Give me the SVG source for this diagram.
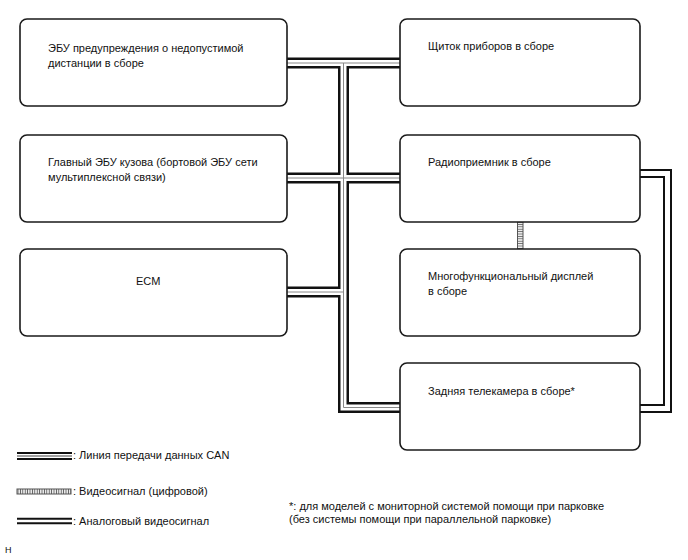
<svg xmlns="http://www.w3.org/2000/svg" width="688" height="560" viewBox="0 0 688 560">
<style>
  .box{fill:#fff;stroke:#1a1a1a;stroke-width:1.6}
  text{font-family:"Liberation Sans",Arial,sans-serif;font-size:11px;fill:#111}
  .cb{fill:none;stroke:#111;stroke-width:11;stroke-linejoin:miter}
  .cw{fill:none;stroke:#fff;stroke-width:6;stroke-linejoin:miter}
  .cg{fill:none;stroke:#888;stroke-width:1;stroke-linejoin:miter}
  .ab{fill:none;stroke:#111;stroke-width:9;stroke-linejoin:miter}
  .aw{fill:none;stroke:#fff;stroke-width:5;stroke-linejoin:miter}
</style>
<defs>
  <pattern id="rungH" width="6" height="2.4" patternUnits="userSpaceOnUse">
    <rect width="6" height="2.4" fill="#fff"/>
    <line x1="0" y1="1.2" x2="6" y2="1.2" stroke="#666" stroke-width="1"/>
  </pattern>
  <pattern id="rungV" width="2.4" height="6" patternUnits="userSpaceOnUse">
    <rect width="2.4" height="6" fill="#fff"/>
    <line x1="1.2" y1="0" x2="1.2" y2="6" stroke="#555" stroke-width="1"/>
  </pattern>
</defs>

<g id="connectors">
  <g id="can">
    <path class="cb" d="M287,63 H400"/>
    <path class="cb" d="M287,178 H400"/>
    <path class="cb" d="M287,292 H343.5"/>
    <path class="cb" d="M343.5,63 V407.5 H400"/>
    <path class="cw" d="M287,63 H400"/>
    <path class="cw" d="M287,178 H400"/>
    <path class="cw" d="M287,292 H343.5"/>
    <path class="cw" d="M343.5,63 V407.5 H400"/>
    <path class="cg" d="M287,63 H400"/>
    <path class="cg" d="M287,178 H400"/>
    <path class="cg" d="M287,292 H343.5"/>
    <path class="cg" d="M343.5,63 V407.5 H400"/>
  </g>
  <g id="analog">
    <path class="ab" d="M640,173.5 H667.5 V408.5 H640"/>
    <path class="aw" d="M640,173.5 H667.5 V408.5 H640"/>
  </g>
  <g id="digital">
    <rect x="517.5" y="222" width="5.5" height="27" fill="url(#rungH)" stroke="#555" stroke-width="1"/>
  </g>
</g>

<g id="node-ebu-distance">
  <rect class="box" x="20" y="19" width="267" height="87" rx="7"/>
  <text x="48" y="52">ЭБУ предупреждения о недопустимой</text>
  <text x="48" y="67">дистанции в сборе</text>
</g>
<g id="node-combination-meter">
  <rect class="box" x="400" y="19" width="240" height="87" rx="7"/>
  <text x="428" y="50">Щиток приборов в сборе</text>
</g>
<g id="node-main-body-ecu">
  <rect class="box" x="20" y="135" width="267" height="87" rx="7"/>
  <text x="48" y="166">Главный ЭБУ кузова (бортовой ЭБУ сети</text>
  <text x="48" y="181">мультиплексной связи)</text>
</g>
<g id="node-radio">
  <rect class="box" x="400" y="135" width="240" height="87" rx="7"/>
  <text x="428" y="166">Радиоприемник в сборе</text>
</g>
<g id="node-ecm">
  <rect class="box" x="20" y="249" width="267" height="87" rx="7"/>
  <text x="136" y="285">ECM</text>
</g>
<g id="node-display">
  <rect class="box" x="400" y="249" width="240" height="87" rx="7"/>
  <text x="428" y="280">Многофункциональный дисплей</text>
  <text x="428" y="295">в сборе</text>
</g>
<g id="node-camera">
  <rect class="box" x="400" y="363" width="240" height="87" rx="7"/>
  <text x="428" y="395">Задняя телекамера в сборе*</text>
</g>

<g id="legend">
  <path d="M17,456 H72" stroke="#111" stroke-width="8" fill="none"/>
  <path d="M17,456 H72" stroke="#fff" stroke-width="4" fill="none"/>
  <path d="M17,456 H72" stroke="#444" stroke-width="1.2" fill="none"/>
  <text x="73" y="459">: Линия передачи данных CAN</text>
  <rect x="17" y="489" width="54" height="5" fill="url(#rungV)" stroke="#555" stroke-width="1"/>
  <text x="73" y="495">: Видеосигнал (цифровой)</text>
  <path d="M17,521 H72" stroke="#111" stroke-width="6.5" fill="none"/>
  <path d="M17,521 H72" stroke="#fff" stroke-width="2.5" fill="none"/>
  <text x="73" y="525">: Аналоговый видеосигнал</text>
  <text x="289" y="510">*: для моделей с мониторной системой помощи при парковке</text>
  <text x="289" y="523">(без системы помощи при параллельной парковке)</text>
  <text x="5" y="553" style="font-size:9px">H</text>
</g>
</svg>
